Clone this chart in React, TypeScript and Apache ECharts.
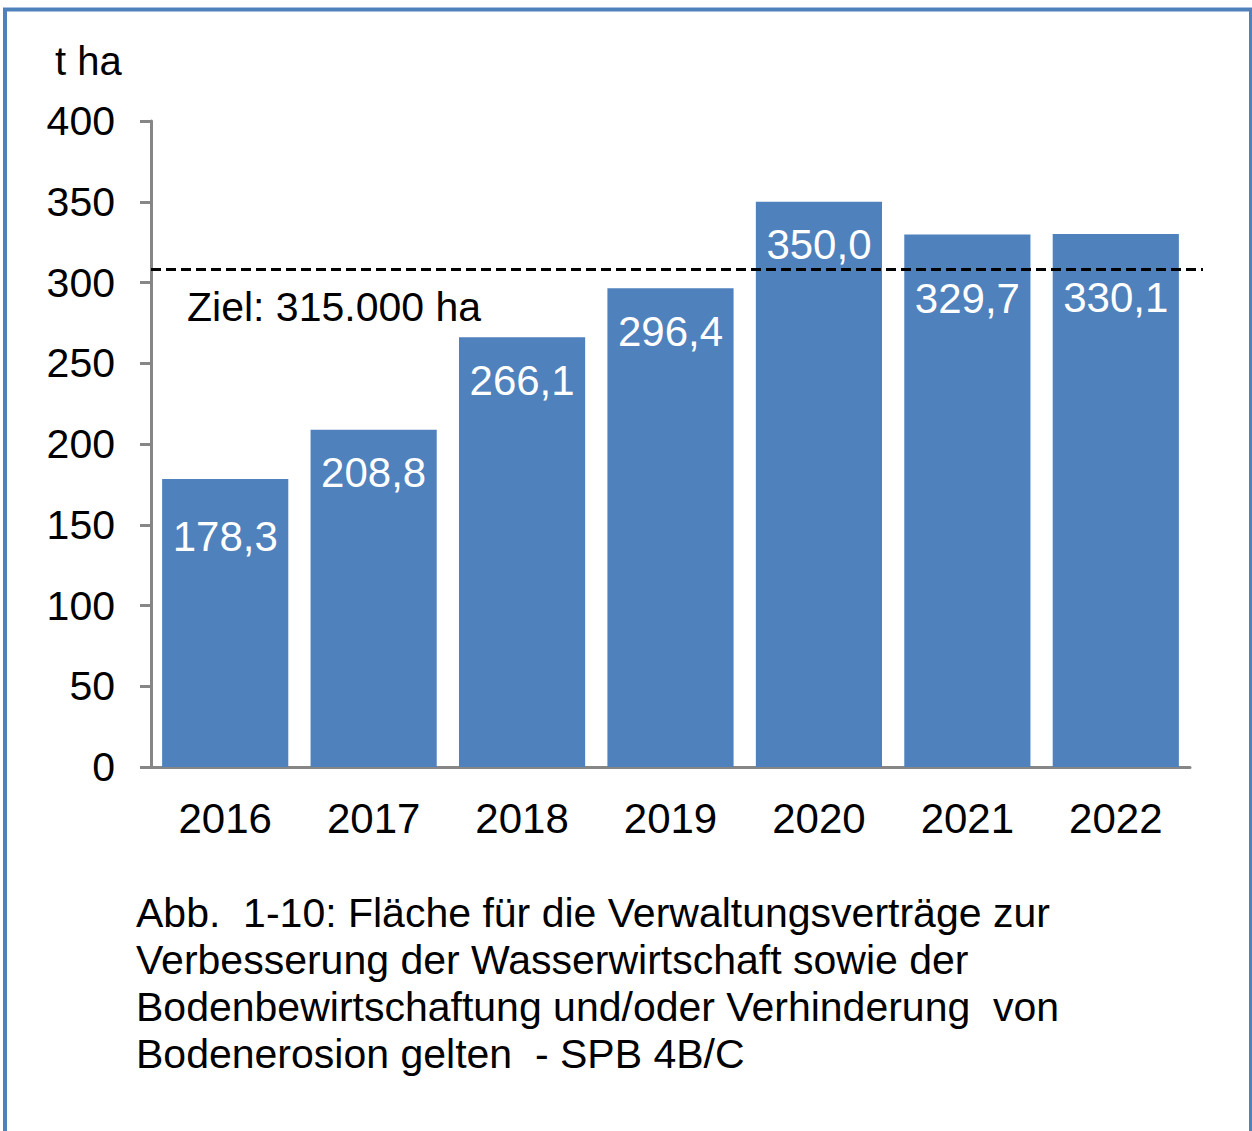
import React, { useEffect, useRef } from "react";
import * as echarts from "echarts";

const categories = ["2016", "2017", "2018", "2019", "2020", "2021", "2022"];
const values = [178.3, 208.8, 266.1, 296.4, 350.0, 329.7, 330.1];
const yTicks = { min: 0, max: 400, interval: 50 };
const targetLineValue = 308;
const targetLabel = "Ziel: 315.000 ha";
const unitLabel = "t ha";
const caption =
  "Abb.  1-10: Fläche für die Verwaltungsverträge zur\nVerbesserung der Wasserwirtschaft sowie der\nBodenbewirtschaftung und/oder Verhinderung  von\nBodenerosion gelten  - SPB 4B/C";

const FONT = "'Liberation Sans', Arial, sans-serif";
const BAR = "#4F81BD";
const AXIS = "#868686";

export default function App() {
  const ref = useRef<HTMLDivElement>(null);
  useEffect(() => {
    document.body.style.margin = "0";
    if (!ref.current) return;
    const chart = echarts.init(ref.current, undefined, { renderer: "svg" });
    const extraOffset: Record<string, number> = { "2016": 14, "2021": 21, "2022": 21 };
    const fmt = (v: number) => v.toFixed(1).replace(".", ",");
    chart.setOption({
      animation: false,
      backgroundColor: "#ffffff",
      grid: { left: 151, right: 62, top: 121, bottom: 364, containLabel: false },
      title: [
        {
          text: unitLabel,
          left: 50,
          top: 36,
          textStyle: { fontFamily: FONT, fontSize: 40, fontWeight: "normal", color: "#000" },
        },
        {
          text: caption,
          left: 131,
          top: 884,
          textStyle: {
            fontFamily: FONT,
            fontSize: 41,
            fontWeight: "normal",
            color: "#000",
            lineHeight: 47,
          },
        },
      ],
      xAxis: {
        type: "category",
        data: categories,
        axisLine: { lineStyle: { color: AXIS, width: 3 } },
        axisTick: { show: false },
        axisLabel: { fontFamily: FONT, fontSize: 42, color: "#000", margin: 30 },
      },
      yAxis: {
        type: "value",
        min: yTicks.min,
        max: yTicks.max,
        interval: yTicks.interval,
        splitLine: { show: false },
        axisLine: { show: true, lineStyle: { color: AXIS, width: 3 } },
        axisTick: { show: true, length: 11, lineStyle: { color: AXIS, width: 3 } },
        axisLabel: { fontFamily: FONT, fontSize: 41, color: "#000", margin: 36 },
      },
      series: [
        {
          type: "bar",
          barCategoryGap: "15%",
          itemStyle: { color: BAR },
          data: values.map((v, i) => ({
            value: v,
            label: {
              show: true,
              position: "insideTop",
              distance: 22,
              offset: [0, extraOffset[categories[i]] || 0],
              formatter: () => fmt(v),
              fontFamily: FONT,
              fontSize: 42,
              color: "#fff",
            },
          })),
          z: 2,
        },
      ],
      graphic: [
        {
          type: "text",
          left: 187,
          top: 286,
          style: { text: targetLabel, font: `41px ${FONT}`, fill: "#000" },
        },
        {
          type: "rect",
          shape: { x: 5, y: 9.5, width: 1246, height: 1200 },
          style: { fill: "none", stroke: BAR, lineWidth: 4 },
          silent: true,
        },
      ],
    });
    const yPix = chart.convertToPixel({ yAxisIndex: 0 }, targetLineValue) as number;
    chart.setOption({
      graphic: [
        {
          id: "targetLine",
          type: "line",
          z: 10,
          silent: true,
          shape: { x1: 151, y1: yPix, x2: 1203, y2: yPix },
          style: { stroke: "#000", lineWidth: 3, lineDash: [10, 5] },
        },
      ],
    });
    return () => chart.dispose();
  }, []);
  return <div ref={ref} style={{ width: 1252, height: 1131 }} />;
}
